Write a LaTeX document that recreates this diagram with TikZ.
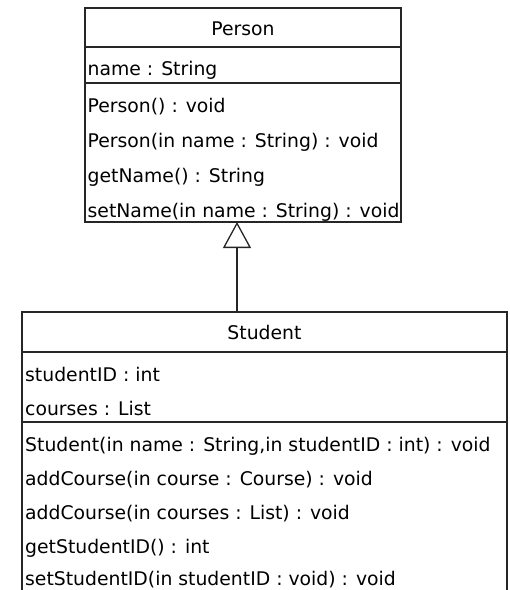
\documentclass[tikz,border=0pt]{standalone}
\usepackage{fontspec}
\setmainfont{DejaVu Sans}
\usetikzlibrary{arrows.meta,positioning}

\tikzset{
  classbox/.style={draw=black!85, line width=1.3pt, inner sep=0pt},
  member/.style={anchor=base west, inner sep=0pt, font=\fontsize{18.8}{21}\selectfont},
  title/.style={anchor=base, inner sep=0pt, font=\fontsize{18.8}{21}\selectfont},
  inherit/.style={draw=black!85, line width=1.3pt, -{Triangle[open, length=26pt, width=28pt, line width=1.3pt]}}
}

\begin{document}
\begin{tikzpicture}[x=1pt, y=-1pt]
  \useasboundingbox (0,0) rectangle (510,590);

  % class boxes
  \node[classbox, minimum width=316pt, minimum height=214pt] (person) at (243,115) {};
  \node[classbox, minimum width=485pt, minimum height=320pt] (student) at (264.5,472) {};

  % compartments
  \draw[black!85, line width=1.3pt] (85,47) -- (401,47);
  \draw[black!85, line width=1.3pt] (85,83) -- (401,83);
  \draw[black!85, line width=1.3pt] (22,352) -- (507,352);
  \draw[black!85, line width=1.3pt] (22,422) -- (507,422);

  % Person
  \node[title] (ptitle) at (243,35) {Person};
  \node[member] (pname) at (87.5,75) {name : String};
  \node[member] (pm1) at (87.5,112) {Person() : void};
  \node[member] (pm2) at (87.5,147) {Person(in name : String) : void};
  \node[member] (pm3) at (87.5,182) {getName() : String};
  \node[member] (pm4) at (87.5,217) {setName(in name : String) : void};

  % Student
  \node[title] (stitle) at (264.5,339) {Student};
  \node[member] (sid) at (25,381) {studentID : int};
  \node[member] (scourses) at (25,415) {courses : List};
  \node[member] (sm1) at (25,451) {Student(in name : String,in studentID : int) : void};
  \node[member] (sm2) at (25,485) {addCourse(in course : Course) : void};
  \node[member] (sm3) at (25,519) {addCourse(in courses : List) : void};
  \node[member] (sm4) at (25,553) {getStudentID() : int};
  \node[member] (sm5) at (25,585) {setStudentID(in studentID : void) : void};

  % generalization
  \coordinate (sub) at (237,312);
  \coordinate (super) at (237,222);
  \draw[inherit] (sub) -- (super);
\end{tikzpicture}
\end{document}
